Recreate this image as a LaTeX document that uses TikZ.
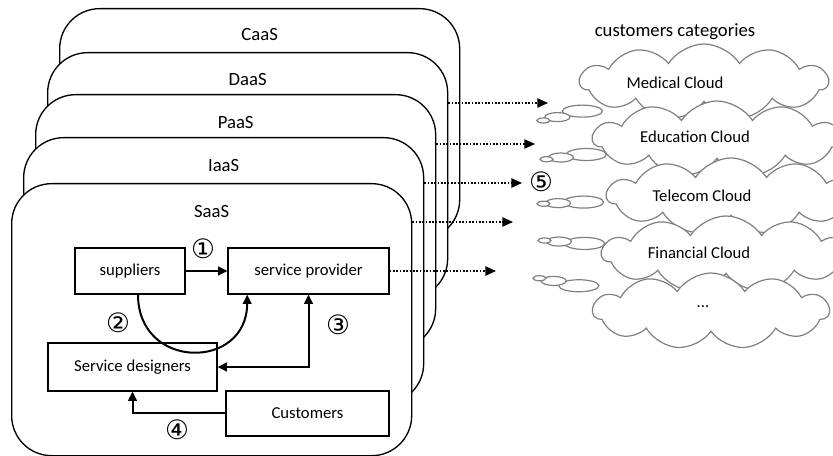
\documentclass[tikz,border=0pt]{standalone}
\usepackage{fontspec}
\setmainfont{Carlito}
\newfontfamily\circfont{DejaVu Sans}
\usepackage{tikz}
\usetikzlibrary{arrows.meta,positioning,shapes.symbols,calc}
\definecolor{cloudgray}{RGB}{128,128,128}
\newcommand\moredots{...}
\tikzset{
  layer/.style={draw, line width=1pt, fill=white, rounded corners=30pt, minimum width=300pt, anchor=north west, inner sep=0pt},
  layertitle/.style={font=\fontsize{14}{16}\selectfont},
  role/.style={draw, line width=0.9pt, fill=white, minimum height=34.5pt, font=\fontsize{12.5}{15}\selectfont},
  flow/.style={line width=1.5pt, -{Triangle[length=7pt,width=6.5pt]}},
  twoway/.style={flow, {Triangle[length=7pt,width=6.5pt]}-{Triangle[length=7pt,width=6.5pt]}},
  spread/.style={line width=1.2pt, dash pattern=on 1.2pt off 1.3pt, -{Triangle[length=8pt,width=7pt]}},
  num/.style={font=\circfont\fontsize{20}{20}\selectfont, inner sep=0pt},
  custcloud/.style={cloud, draw=cloudgray, line width=0.9pt, fill=white, cloud puffs=11, cloud puff arc=115, cloud ignores aspect, minimum height=57pt, inner sep=0pt},
  bubble/.style={draw=cloudgray, line width=0.9pt, fill=white},
  cloudtext/.style={font=\fontsize{12.5}{15}\selectfont},
}
\begin{document}
\begin{tikzpicture}[x=0.75pt,y=-0.75pt]
  \useasboundingbox (0,0) rectangle (833,456);
  \clip (0,0) rectangle (833,456);
  % service layers, back to front
  \node[layer, minimum height=173.25pt] (caas) at (59,8) {};
  \node[layertitle, below=12pt of caas.north] (caast) {CaaS};
  \node[layer, minimum height=184.5pt] (daas) at (47,52) {};
  \node[layertitle, below=12.5pt of daas.north] (daast) {DaaS};
  \node[layer, minimum height=190.5pt] (paas) at (35,94) {};
  \node[layertitle, below=13pt of paas.north] (paast) {PaaS};
  \node[layer, minimum height=199.5pt] (iaas) at (23,137) {};
  \node[layertitle, below=13pt of iaas.north] (iaast) {IaaS};
  \node[layer, minimum height=204pt] (saas) at (11,183) {};
  \node[layertitle, below=13pt of saas.north] (saast) {SaaS};

  % roles inside SaaS
  \node[role, minimum width=82.5pt] (sup) at (130,271) {suppliers};
  \node[role, minimum width=120.75pt] (prov) at (308.5,271) {service provider};
  \node[role, minimum width=126.75pt, minimum height=36pt] (des) at (132.5,367) {Service designers};
  \node[role, minimum width=122.25pt, minimum height=33.75pt] (cust) at (307.5,413.5) {Customers};

  \draw[flow] (sup) -- (prov);
  \draw[flow] ([xshift=6pt]sup.south) .. controls +(0,76) and +(0,76) .. ([xshift=-46pt]prov.south);
  \draw[twoway] (prov.south) |- (des.east);
  \draw[flow] (cust.west) -| (des.south);

  \node[num] (n1) at (203,249) {①};
  \node[num] (n2) at (118,323) {②};
  \node[num] (n3) at (338,325) {③};
  \node[num] (n4) at (177,430) {④};

  % customer clouds
  \node[cloudtext, font=\fontsize{14}{16}\selectfont] (cat) at (675,32) {customers categories};
  \foreach \nm/\cx/\cy/\px/\py/\w/\tx/\ty/\lbl in {
      med/704/82/537/122/186/675/83/Medical Cloud,
      edu/717/139/540/160/186/695/137/Education Cloud,
      tel/731/196/537/204/186/702/196/Telecom Cloud,
      fin/726/254/538/240/186/699/253/Financial Cloud,
      etc/711/311/533/277/177/703/307/\moredots}{
    \coordinate (\nm-c) at (\cx,\cy);
    \coordinate (\nm-p) at (\px,\py);
    \foreach \d/\rx/\ry in {35pt/15pt/4.5pt, 15.75pt/9.4pt/3.4pt, 4.9pt/4.9pt/1.9pt}
      \draw[bubble] ($(\nm-p)!\d!(\nm-c)$) ellipse [x radius=\rx, y radius=\ry];
    \node[custcloud, minimum width=\w pt] (\nm) at (\nm-c) {};
    \node[cloudtext] (\nm-t) at (\tx,\ty) {\lbl};
  }

  % delivery to customers
  \coordinate (e1) at (548,103);
  \coordinate (e2) at (535,144);
  \coordinate (e3) at (522,183);
  \coordinate (e4) at (513,222);
  \coordinate (e5) at (496,271);
  \draw[spread] (daas.east |- e1) -- (e1);
  \draw[spread] (paas.east |- e2) -- (e2);
  \draw[spread] (iaas.east |- e3) -- (e3);
  \draw[spread] (saas.east |- e4) -- (e4);
  \draw[spread] (prov.east) -- (e5);
  \node[num] (n5) at (541,182) {⑤};
\end{tikzpicture}
\end{document}
